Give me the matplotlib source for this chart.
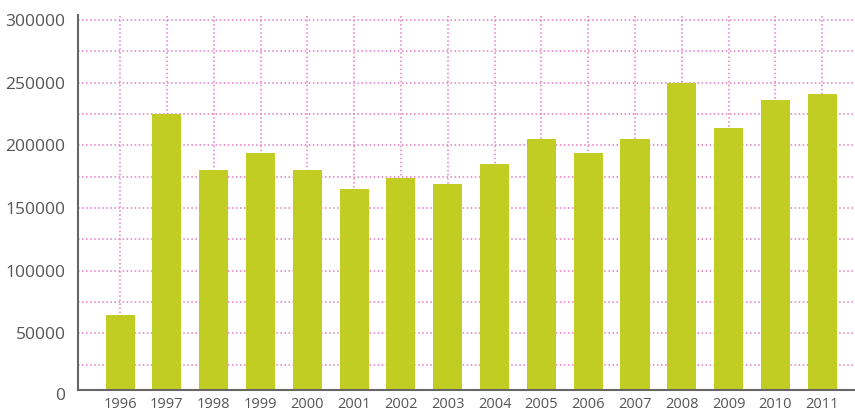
import matplotlib.pyplot as plt
from matplotlib.ticker import MultipleLocator

years = ['1996', '1997', '1998', '1999', '2000', '2001', '2002', '2003',
         '2004', '2005', '2006', '2007', '2008', '2009', '2010', '2011']
values = [65000, 225000, 180000, 194000, 180000, 165000, 174000, 169000,
          185000, 205000, 194000, 205000, 250000, 214000, 236000, 241000]

# the value axis starts a little above zero, the "0" label sits under the axis line
ymin = 4800
pos = range(len(years))

fig = plt.figure(figsize=(8.55, 4.09), dpi=100)
ax = fig.add_axes([0.0912, 0.0465, 0.9088, 0.9168])

ax.set_axisbelow(True)
ax.bar(pos, [v - ymin for v in values], bottom=ymin, width=0.62,
       color='#c2cd23', zorder=2)

ax.set_xlim(-0.9, 15.7)
ax.set_ylim(ymin, 304000)
ax.set_xticks(list(pos))
ax.set_xticklabels(years)
ax.yaxis.set_major_locator(MultipleLocator(50000))
ax.yaxis.set_minor_locator(MultipleLocator(25000))

grid_kw = dict(color='#e77bbf', linestyle=':', linewidth=1.1)
ax.grid(True, which='major', axis='both', **grid_kw)
ax.grid(True, which='minor', axis='y', **grid_kw)

for s in ['top', 'right']:
    ax.spines[s].set_visible(False)
for s in ['left', 'bottom']:
    ax.spines[s].set_color('#666666')
    ax.spines[s].set_linewidth(1.5)

ax.tick_params(axis='both', which='both', length=0)
ax.tick_params(axis='y', labelsize=12.5, labelcolor='#555555', pad=9)
ax.tick_params(axis='x', labelsize=10.5, labelcolor='#555555', pad=5)
for lab in ax.get_xticklabels() + ax.get_yticklabels():
    lab.set_fontfamily('Open Sans')

ax.annotate('0', xy=(0, 0), xycoords=('axes fraction', 'data'),
            xytext=(-9, 0), textcoords='offset points', ha='right', va='center',
            fontsize=12.5, color='#555555', family='Open Sans', annotation_clip=False)

plt.savefig('out.png')
